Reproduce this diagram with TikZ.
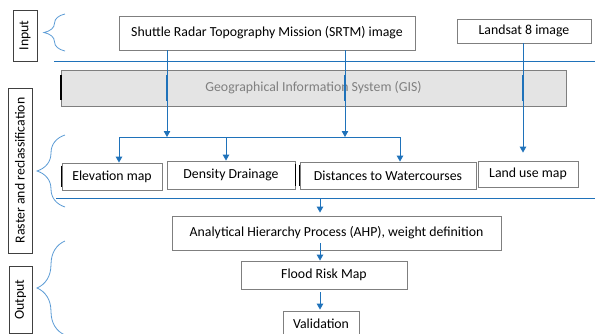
\documentclass[tikz,border=0pt]{standalone}
\usepackage{fontspec}
\setmainfont{Carlito}
\usetikzlibrary{arrows.meta,decorations.pathreplacing}
\definecolor{lineblue}{HTML}{1F72BA}
\definecolor{braceblue}{HTML}{5B9BD5}
\definecolor{boxgray}{HTML}{7F7F7F}
\definecolor{gisfill}{HTML}{E4E4E4}
\begin{document}
\begin{tikzpicture}[x=1pt,y=-1pt]
\tikzset{box/.style={draw=boxgray, line width=0.8pt, fill=white, inner sep=0pt, align=center},
	side/.style={draw=black!75, line width=0.8pt, inner sep=0pt, rotate=90},
	arr/.style={draw=lineblue, line width=0.9pt, -{Triangle[length=6pt,width=6.5pt]}},
	sep/.style={draw=lineblue, line width=1pt},
	brc/.style={draw=braceblue, line width=0.8pt, decorate, decoration={brace, amplitude=#1}}}
\useasboundingbox (0,0) rectangle (595,333);
\begin{scope}
	\tikzstyle{every node}=[font=\fontsize{13.8}{16}\selectfont]
	% stage labels
	\node[side, minimum width=51, minimum height=24] (inp) at (25,35.5) {Input};
	\node[side, minimum width=165, minimum height=24] (rast) at (20,170.5) {Raster and reclassification};
	\node[side, minimum width=67, minimum height=23] (outp) at (20.5,299.5) {Output};
	% inputs
	\node[box, minimum width=296, minimum height=34] (srtm) at (267,33) {Shuttle Radar Topography Mission (SRTM) image};
	\node[box, minimum width=134, minimum height=24] (lsat) at (524,31) {Landsat 8 image};
	\node[box, fill=gisfill, text=boxgray, minimum width=505, minimum height=36] (gis) at (313.5,88) {Geographical Information System (GIS)};
	% maps
	\node[box, minimum width=100, minimum height=27] (elev) at (112,176.5) {Elevation map};
	\node[box, minimum width=128, minimum height=28] (dens) at (231,175) {Density Drainage};
	\node[box, minimum width=176, minimum height=27] (dist) at (388,175.5) {Distances to Watercourses};
	\node[box, minimum width=100, minimum height=26] (land) at (528,174) {Land use map};
	% output
	\node[box, minimum width=329, minimum height=34] (ahp) at (336.5,233) {Analytical Hierarchy Process (AHP), weight definition};
	\node[box, minimum width=166, minimum height=28] (flood) at (324,275) {Flood Risk Map};
	\node[box, minimum width=76, minimum height=26] (valid) at (321,324) {Validation};

	\coordinate (s1) at (54,61);
	\coordinate (s2) at (56,198);
	\coordinate (ja) at (119,137);
	\coordinate (jb) at (226,137);
	\coordinate (jc) at (400,137);
	\coordinate (ka) at (167,0);
	\coordinate (kb) at (345,0);
	\coordinate (kc) at (523,0);
	\coordinate (kd) at (320,198);

	\draw[sep] (s1) -- (s1 -| 595,0);
	\draw[sep] (s2) -- (s2 -| 595,0);
	\draw[line width=1.4pt, black] (gis.north west) ++(0.5,5) -- ++(0,25);
	\draw[line width=1.4pt, black] (elev.north west) ++(0,3) -- ++(0,21);
	\draw[line width=1.4pt, black] (dens.north east) ++(0,3) -- ++(0,22);
	\draw[line width=1.4pt, black] (dist.north west) ++(0,3) -- ++(0,21);

	% arrows
	\draw[arr] (ka |- srtm.south) -- (ka |- ja);
	\draw[arr] (kb |- srtm.south) -- (kb |- jc);
	\draw[arr, shorten >=8pt] (kc |- lsat.south) -- (kc |- land.north);
	\foreach \k in {ka,kb,kc}
		\draw[line width=1.4pt, lineblue] (\k |- gis.north) ++(0,5) -- ++(0,26);
	\draw[sep] (ja) -- (jc);
	\draw[arr] (ja) -- (ja |- elev.north);
	\draw[arr] (jb) -- (jb |- dens.north);
	\draw[arr] (jc) -- (jc |- dist.north);
	\draw[arr, shorten >=3pt] (kd) -- (kd |- ahp.north);
	\draw[arr, shorten <=-7pt] (kd |- ahp.south) -- (kd |- flood.north);
	\draw[arr, shorten <=3pt, shorten >=1pt] (kd |- flood.south) -- (kd |- valid.north);

	% braces
	\draw[brc=21pt] (65,51) -- (65,14);
	\draw[brc=28pt] (65,207) -- (65,135);
	\draw[brc=28pt] (65,335) -- (65,241);
\end{scope}
\end{tikzpicture}
\end{document}
